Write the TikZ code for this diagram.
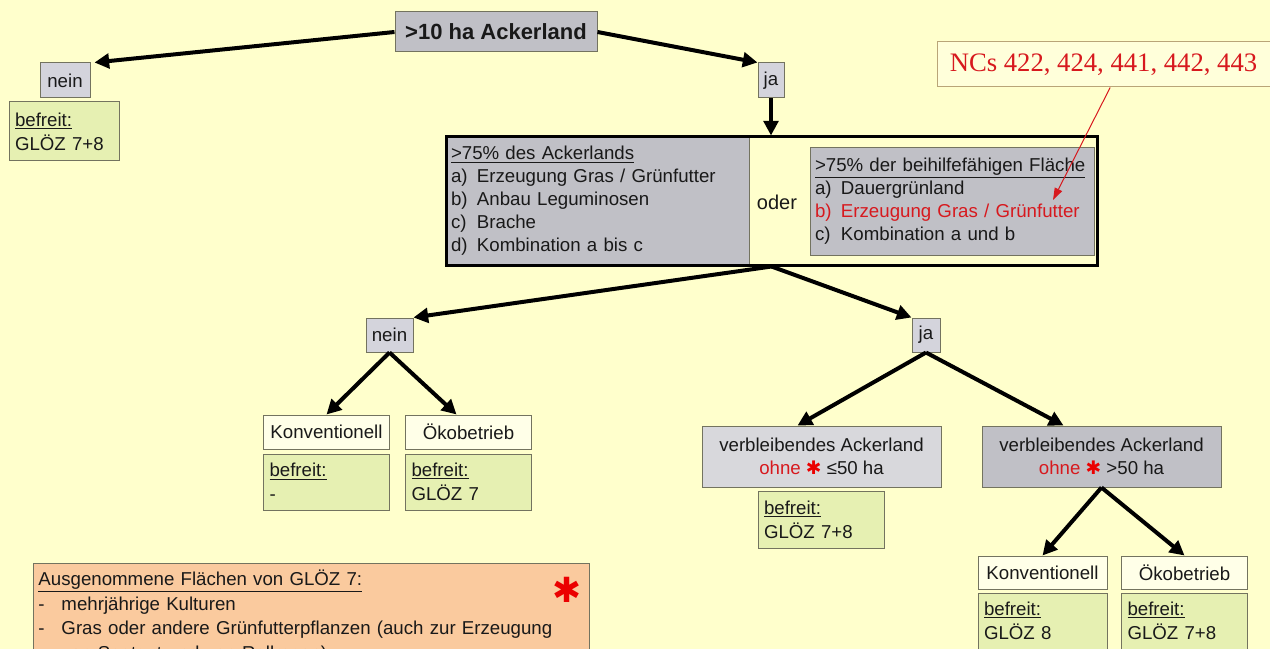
\documentclass[tikz,border=0pt]{standalone}
\usepackage{fontspec}
\setmainfont{Liberation Sans}
\newfontfamily\ncsfont{Liberation Serif}
\newfontfamily\symfont{DejaVu Sans}
\usetikzlibrary{arrows.meta}
\definecolor{ncrot}{RGB}{215,25,30}
\definecolor{sternrot}{RGB}{235,0,0}
\newcommand{\stern}{{\symfont\textcolor{sternrot}{✱}}}
\newcommand{\punkt}[1]{\makebox[19.5pt][l]{#1}}

\begin{document}
\begin{tikzpicture}[x=0.75pt,y=0.75pt,yscale=-1,xscale=1,
  every node/.style={font=\fontsize{14}{17.25}\selectfont, text={rgb, 255:red, 25; green, 25; blue, 25 }},
  frame/.style={draw={rgb, 255:red, 115; green, 115; blue, 95 }, line width=0.75, inner sep=0pt},
  grau/.style={frame, fill={rgb, 255:red, 192; green, 192; blue, 198 }},
  hellgrau/.style={frame, fill={rgb, 255:red, 212; green, 212; blue, 220 }},
  antwort/.style={hellgrau, minimum height=26.25pt},
  betrieb/.style={frame, fill={rgb, 255:red, 255; green, 255; blue, 232 }, minimum width=94.5pt, minimum height=25.5pt},
  befreit/.style={frame, fill={rgb, 255:red, 230; green, 240; blue, 178 }, text width=85.5pt, inner xsep=4.5pt, minimum height=42pt, align=left, font=\fontsize{14}{18}\selectfont},
  pfeil/.style={line width=3pt, -{Triangle[length=11pt,width=11pt]}}
]
\useasboundingbox (0,0) rectangle (1270,649);
\fill [fill={rgb, 255:red, 255; green, 255; blue, 204 }] (0,0) rectangle (1270,649);

%Shape: Rectangle
\node [grau, minimum width=151.5pt, minimum height=30pt, font=\fontsize{16.5}{20}\selectfont\bfseries] (acker) at (496,32) {>10 ha Ackerland};
\node [antwort, minimum width=37.5pt] (nein1) at (65,80.5) {nein};
\node [befreit, text width=73.5pt, minimum height=44.25pt] (frei1) at (64,131.5) {\underline{befreit:}\\GLÖZ 7+8};
\node [antwort, minimum width=19.5pt] (ja1) at (771,80.5) {ja};

%Shape: Rectangle
\node [grau, minimum height=96pt, text width=219.75pt, inner xsep=3.75pt, align=left] (acker75) at (597.5,201) {\underline{>75\% des Ackerlands}\\
\punkt{a)}Erzeugung Gras / Grünfutter\\
\punkt{b)}Anbau Leguminosen\\
\punkt{c)}Brache\\
\punkt{d)}Kombination a bis c};
\node [grau, minimum height=80.25pt, text width=205.5pt, inner xsep=3.75pt, align=left] (flaeche75) at (952,201.5) {\underline{>75\% der beihilfefähigen Fläche}\\
\punkt{a)}Dauergrünland\\
\textcolor{ncrot}{\punkt{b)}Erzeugung Gras / Grünfutter}\\
\punkt{c)}Kombination a und b};
\node [font=\fontsize{15}{18}\selectfont] (oder) at (777,202) {oder};
\node [draw=black, line width=2.25pt, minimum width=488.25pt, minimum height=96pt, inner sep=0pt] (wahl) at (771.5,201) {};

%Shape: Rectangle
\node [draw={rgb, 255:red, 185; green, 165; blue, 120 }, line width=0.75, fill={rgb, 255:red, 255; green, 255; blue, 218 }, minimum width=249.75pt, minimum height=33.75pt, inner sep=0pt, font=\ncsfont\fontsize{20}{24}\selectfont, text=ncrot] (ncs) at (1103.5,64.5) {NCs 422, 424, 441, 442, 443};
\coordinate (ncziel) at (1053,200);

%Shape: Rectangle
\node [antwort, minimum width=35.25pt, minimum height=25.5pt] (nein2) at (389.5,335) {nein};
\node [antwort, minimum width=21pt, minimum height=25.5pt] (ja2) at (926,335) {ja};
\node [betrieb] (konv1) at (326.5,432) {Konventionell};
\node [befreit] (frei2) at (326.5,482) {\underline{befreit:}\\-};
\node [betrieb] (oeko1) at (468.5,432) {Ökobetrieb};
\node [befreit] (frei3) at (468.5,482) {\underline{befreit:}\\GLÖZ 7};

%Shape: Rectangle
\node [frame, fill={rgb, 255:red, 216; green, 216; blue, 220 }, minimum width=179.25pt, minimum height=45.75pt, align=center] (rest50) at (821.5,456.5) {verbleibendes Ackerland\\\textcolor{ncrot}{ohne} \stern{} ≤50 ha};
\node [befreit, minimum height=42.75pt] (frei4) at (821,519.5) {\underline{befreit:}\\GLÖZ 7+8};
\node [grau, minimum width=179.25pt, minimum height=45.75pt, align=center] (rest50plus) at (1101.5,456.5) {verbleibendes Ackerland\\\textcolor{ncrot}{ohne} \stern{} >50 ha};
\node [betrieb, minimum width=96.75pt, minimum height=24.75pt] (konv2) at (1042.5,572.5) {Konventionell};
\node [befreit, text width=87.75pt] (frei5) at (1042.5,621) {\underline{befreit:}\\GLÖZ 8};
\node [betrieb, minimum height=24.75pt] (oeko2) at (1184.5,572.5) {Ökobetrieb};
\node [befreit] (frei6) at (1184.5,621) {\underline{befreit:}\\GLÖZ 7+8};

%Shape: Rectangle
\node [frame, fill={rgb, 255:red, 250; green, 202; blue, 158 }, anchor=north west, text width=409.5pt, inner xsep=3.75pt, inner ysep=5pt, align=left, font=\fontsize{14}{18.4}\selectfont] (ausnahmen) at (33,563) {\underline{Ausgenommene Flächen von GLÖZ 7:}\\
\makebox[17.25pt][l]{-}mehrjährige Kulturen\\
\makebox[17.25pt][l]{-}Gras oder andere Grünfutterpflanzen (auch zur Erzeugung\\
\hspace*{17.25pt}von Saatgut und von Rollrasen)};
\node [font=\symfont\fontsize{26}{26}\selectfont, text=sternrot] (grossstern) at (567,590) {✱};

%Straight Lines
\draw [pfeil] (acker.west) -- ([xshift=3pt]nein1.north east);
\draw [pfeil] (acker.east) -- (ja1.north west);
\draw [pfeil] (ja1.south) -- (ja1.south |- wahl.north);
\draw [pfeil] (wahl.south) -- (nein2.north east);
\draw [pfeil] (wahl.south) -- (ja2.north west);
\draw [pfeil] (nein2.south) -- (konv1.north);
\draw [pfeil] (nein2.south) -- ([xshift=-9pt]oeko1.north);
\draw [pfeil] (ja2.south) -- ([xshift=-18pt]rest50.north);
\draw [pfeil] (ja2.south) -- ([xshift=-28.5pt]rest50plus.north);
\draw [pfeil] (rest50plus.south) -- (konv2.north);
\draw [pfeil] (rest50plus.south) -- (oeko2.north);
\draw [ncrot, line width=0.75, -{Triangle[length=9pt,width=6pt]}] ([xshift=5pt]ncs.south) -- (ncziel);

\end{tikzpicture}
\end{document}
